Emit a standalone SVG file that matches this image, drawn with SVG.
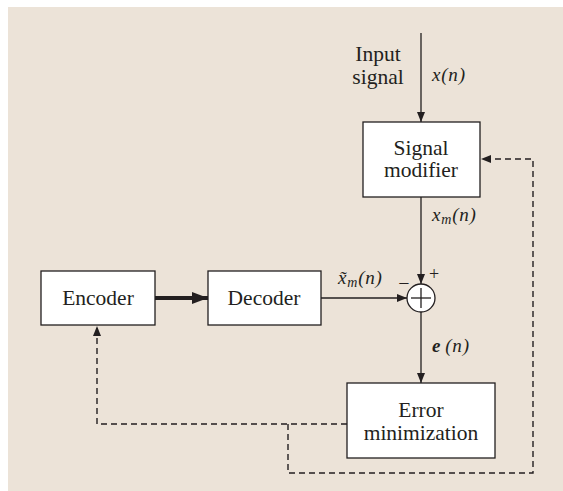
<svg xmlns="http://www.w3.org/2000/svg" width="563" height="491" viewBox="0 0 563 491">
<defs>
<style>
.box{fill:#fff;stroke:#231f20;stroke-width:1.3}
.lbl{font-family:"Liberation Serif","Times New Roman",serif;font-size:21.5px;fill:#231f20;text-anchor:middle}
.it{font-family:"Liberation Serif","Times New Roman",serif;font-size:19px;font-style:italic;fill:#231f20;letter-spacing:0.8px}
.ln{fill:none;stroke:#231f20;stroke-width:1.3}
.dash{fill:none;stroke:#231f20;stroke-width:1.4;stroke-dasharray:6,4}
</style>
<marker id="ah" viewBox="0 0 10 8" refX="10" refY="4" markerWidth="10" markerHeight="8" markerUnits="userSpaceOnUse" orient="auto">
<path d="M0,0 L10,4 L0,8 Z" fill="#231f20"/>
</marker>
<marker id="ahb" viewBox="0 0 16 12" refX="16" refY="6" markerWidth="16" markerHeight="12" markerUnits="userSpaceOnUse" orient="auto">
<path d="M0,0 L16,6 L0,12 Z" fill="#231f20"/>
</marker>
</defs>
<rect x="8" y="7" width="555" height="484" fill="#ece3d8"/>
<g id="connectors">
<line class="ln" x1="421" y1="33" x2="421" y2="122" marker-end="url(#ah)"/>
<line class="ln" x1="421" y1="197" x2="421" y2="284" marker-end="url(#ah)"/>
<line class="ln" x1="321" y1="298" x2="407" y2="298" marker-end="url(#ah)"/>
<line class="ln" x1="421" y1="312" x2="421" y2="383" marker-end="url(#ah)"/>
<line x1="155" y1="298" x2="208" y2="298" stroke="#231f20" stroke-width="4" marker-end="url(#ahb)"/>
<polyline class="dash" points="347,424 97,424 97,326" marker-end="url(#ah)"/>
<polyline class="dash" points="288,424 288,473 533,473 533,159 481,159" marker-end="url(#ah)"/>
</g>
<g id="input-label">
<text class="lbl" x="378" y="61">Input</text>
<text class="lbl" x="378" y="84">signal</text>
<text class="it" x="432" y="81">x(n)</text>
</g>
<g id="signal-modifier">
<rect class="box" x="363" y="122" width="117" height="75"/>
<text class="lbl" x="421" y="155">Signal</text>
<text class="lbl" x="421" y="177">modifier</text>
</g>
<g id="xm-label">
<text class="it" x="432" y="221">x<tspan font-size="14" dy="3">m</tspan><tspan dy="-3">(n)</tspan></text>
</g>
<g id="encoder">
<rect class="box" x="41" y="271" width="114" height="54"/>
<text class="lbl" x="98" y="305">Encoder</text>
</g>
<g id="decoder">
<rect class="box" x="208" y="271" width="113" height="54"/>
<text class="lbl" x="264" y="305">Decoder</text>
</g>
<g id="xtilde-label">
<text class="it" x="338" y="284">x̃<tspan font-size="14" dy="3">m</tspan><tspan dy="-3">(n)</tspan></text>
</g>
<g id="summer">
<circle cx="421" cy="298" r="14" fill="#fff" stroke="#231f20" stroke-width="1.3"/>
<line class="ln" x1="411" y1="298" x2="431" y2="298"/>
<line class="ln" x1="421" y1="288" x2="421" y2="308"/>
<text x="404" y="290" font-family="Liberation Serif,serif" font-size="20" fill="#231f20" text-anchor="middle">−</text>
<text x="434" y="280" font-family="Liberation Serif,serif" font-size="18" fill="#231f20" text-anchor="middle">+</text>
</g>
<g id="e-label">
<text class="it" x="432" y="352" font-weight="bold">e<tspan font-weight="normal" dx="4">(n)</tspan></text>
</g>
<g id="error-minimization">
<rect class="box" x="347" y="383" width="148" height="75"/>
<text class="lbl" x="421" y="417">Error</text>
<text class="lbl" x="421" y="440">minimization</text>
</g>
</svg>
